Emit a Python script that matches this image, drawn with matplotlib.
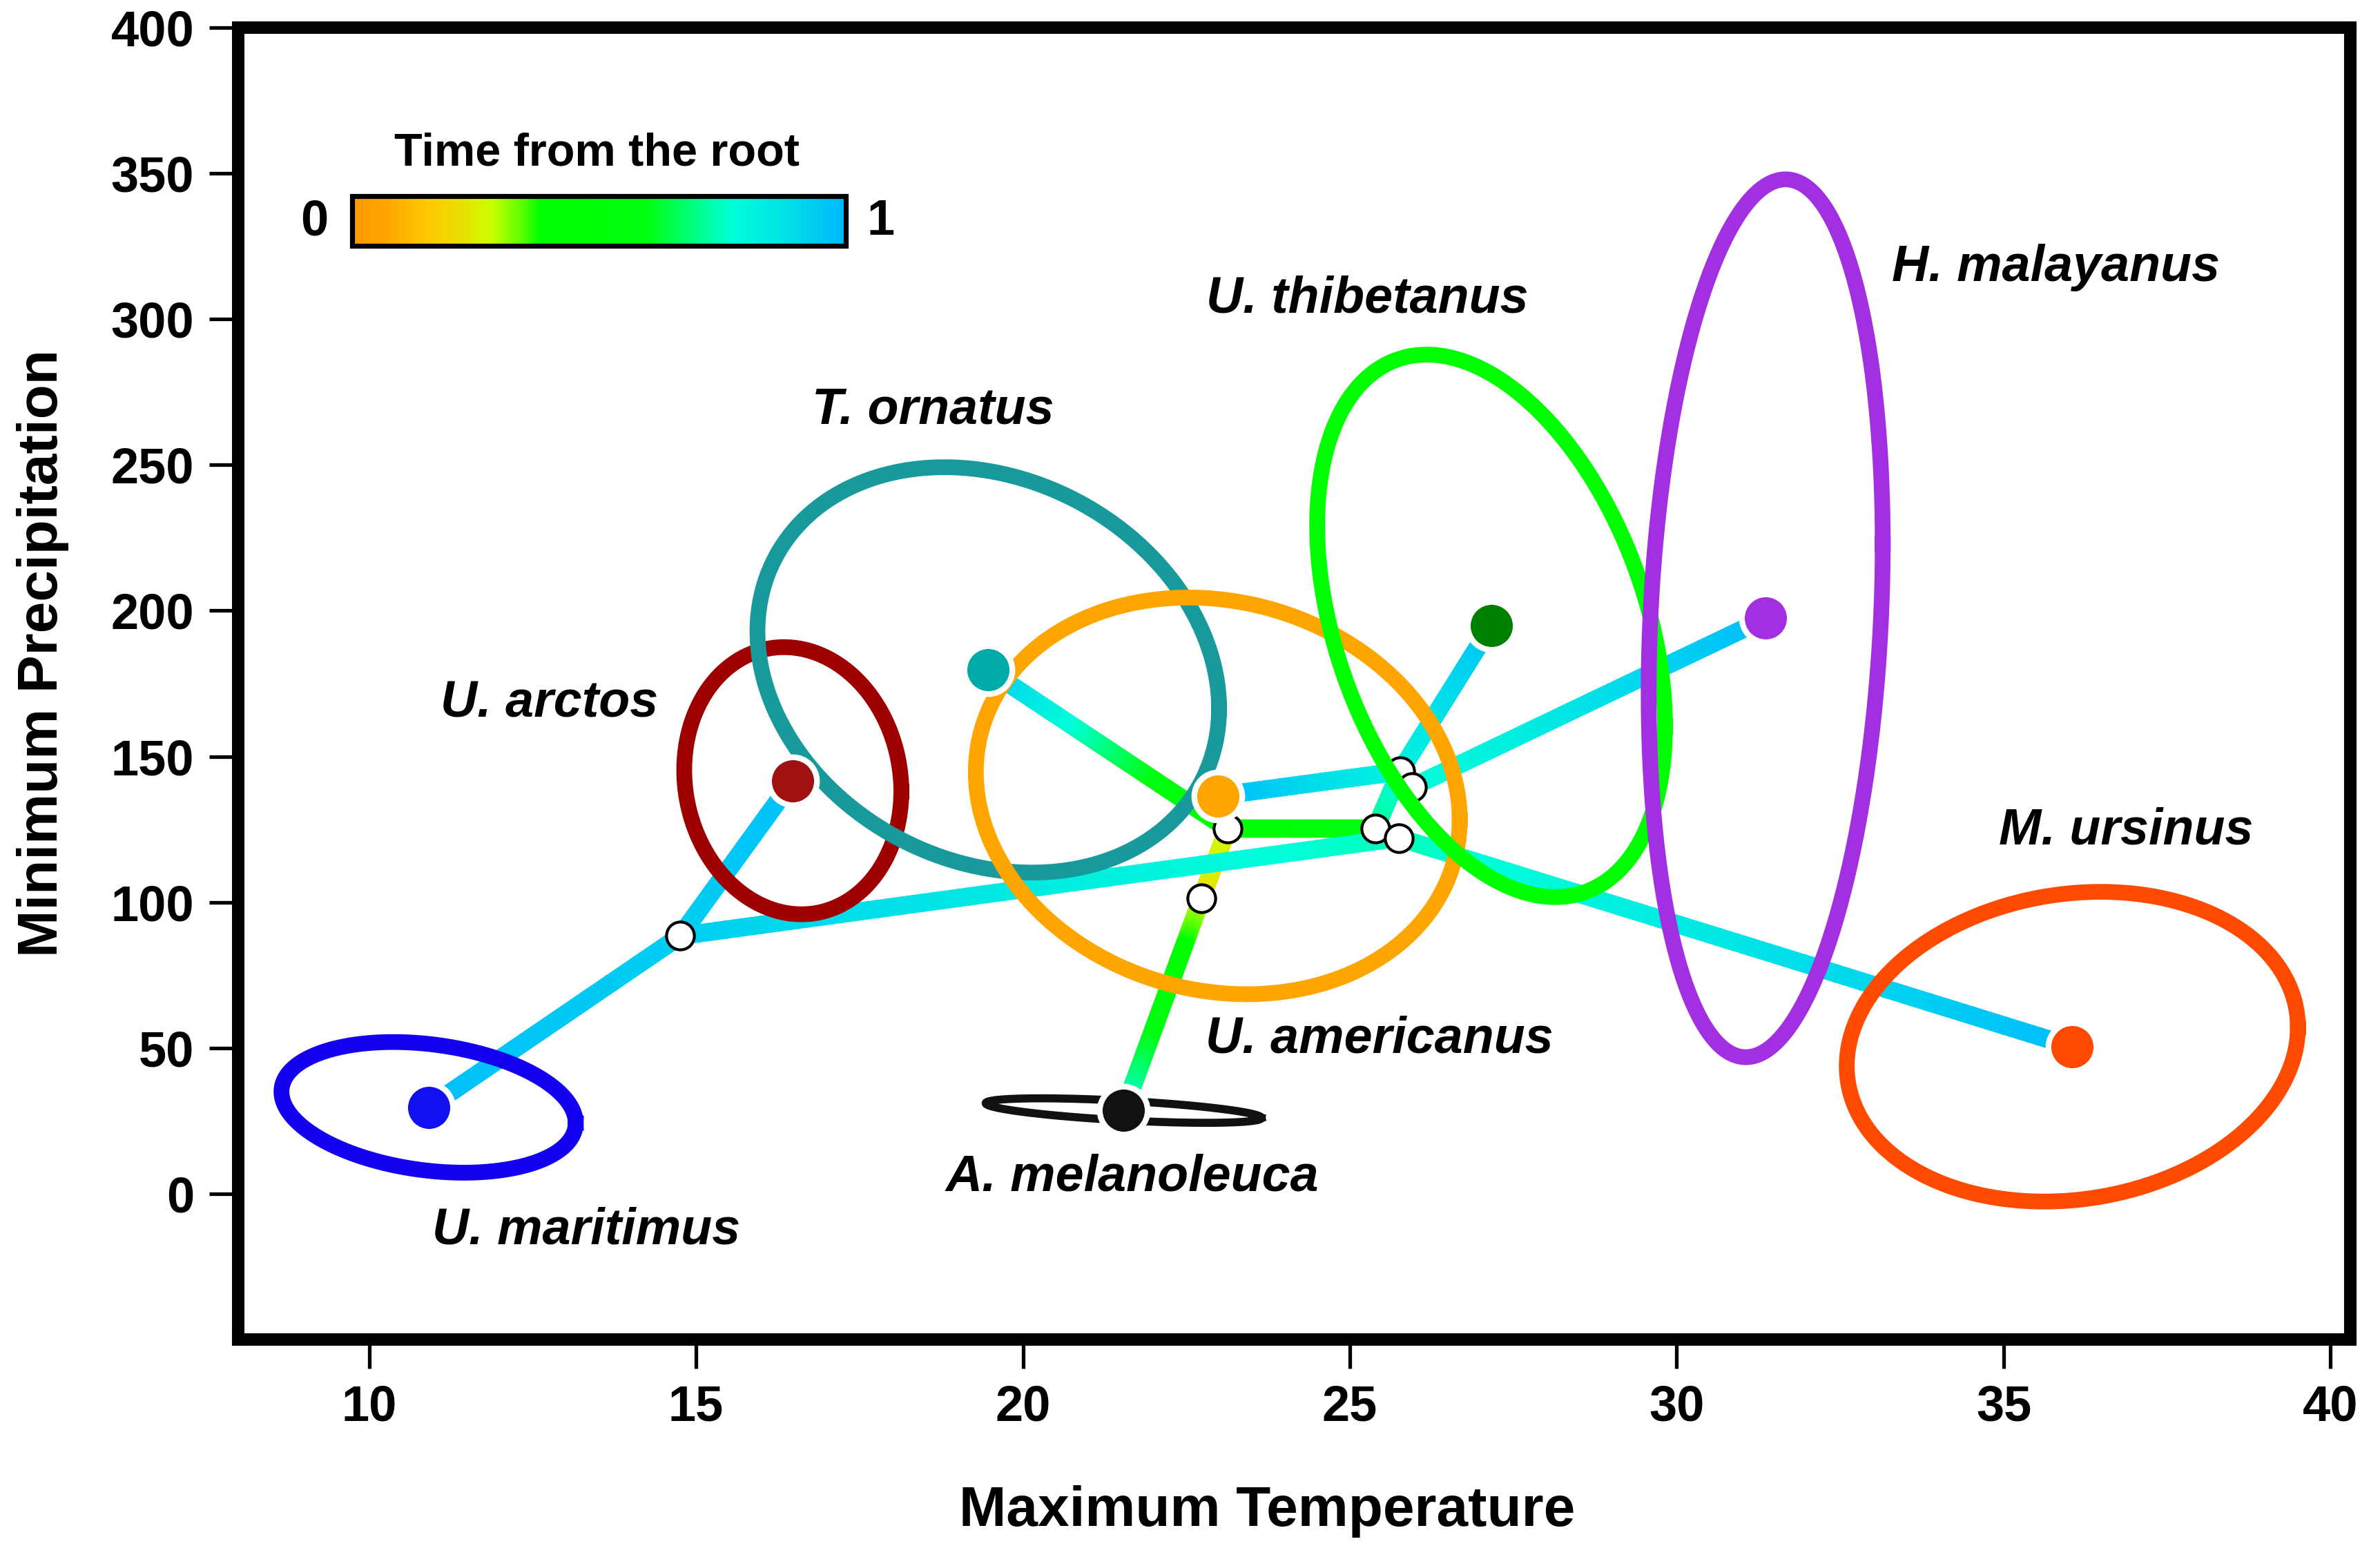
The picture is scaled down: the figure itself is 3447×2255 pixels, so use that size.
import numpy as np
import matplotlib.pyplot as plt
from matplotlib.collections import LineCollection
from matplotlib.colors import LinearSegmentedColormap, Normalize
from matplotlib.cm import ScalarMappable
from matplotlib import font_manager

# fonts
installed = {f.name for f in font_manager.fontManager.ttflist}
SANS = 'Liberation Sans'
NARROW = 'Liberation Sans Narrow' if 'Liberation Sans Narrow' in installed else SANS

# --- Data ---
species = ['U. maritimus', 'U. arctos', 'T. ornatus', 'U. americanus',
           'A. melanoleuca', 'U. thibetanus', 'H. malayanus', 'M. ursinus']
tip_temp = [10.91, 16.48, 19.47, 22.98, 21.54, 27.16, 31.36, 36.05]
tip_prec = [29.7, 141.7, 179.7, 136.5, 28.6, 194.8, 197.4, 50.5]

# spread of each species (half-widths and correlation of the ellipse)
ell_sd_temp = [2.25, 1.66, 3.53, 3.70, 2.11, 2.66, 1.79, 3.45]
ell_sd_prec = [22.4, 45.8, 69.5, 68.0, 4.2, 93.0, 150.5, 53.1]
ell_rho = [-0.24, -0.08, -0.19, -0.12, -0.60, -0.37, 0.17, 0.125]

# reconstructed ancestral states (internal nodes)
node_names = ['n1', 'n2', 'n3', 'n4', 'n5', 'n6', 'n7']
node_temp = [14.76, 22.73, 23.13, 25.39, 25.75, 25.77, 25.95]
node_prec = [88.5, 101.3, 125.2, 125.2, 122.1, 144.9, 139.5]

# branches: parent, child, time from root at start and end
edge_from = ['n2', 'n2', 'n3', 'n3', 'n4', 'n4', 'n5', 'n1', 'n1', 'n5',
             'n6', 'n6', 'n6', 'n7']
edge_to = ['A. melanoleuca', 'n3', 'T. ornatus', 'n4', 'n5', 'n6', 'n1',
           'U. maritimus', 'U. arctos', 'M. ursinus', 'U. americanus',
           'U. thibetanus', 'n7', 'H. malayanus']
edge_t0 = [0.27, 0.22, 0.42, 0.42, 0.70, 0.70, 0.74, 0.93, 0.93, 0.74,
           0.80, 0.80, 0.77, 0.76]
edge_t1 = [0.76, 0.27, 0.93, 0.60, 0.72, 0.77, 0.93, 0.97, 0.97, 0.98,
           0.98, 0.96, 0.77, 0.98]

# colours
ellipse_colors = ['#1400F0', '#9E0000', '#189A9C', '#FFA500', '#111111',
                  '#00FF00', '#A22FE2', '#FF4A00']
dot_colors = ['#1010F0', '#A01212', '#00AAA8', '#FFA500', '#111111',
              '#008000', '#A22FE2', '#FF4800']
label_x = [13.32, 12.76, 18.63, 25.45, 21.67, 25.27, 35.80, 36.87]
label_y = [-12.5, 168.2, 268.8, 53.1, 5.7, 306.8, 317.7, 124.5]

cmap_stops = [0.0, 0.06, 0.15, 0.22, 0.28, 0.34, 0.38, 0.60, 0.68, 0.77, 0.88, 1.0]
cmap_hex = ['#FF9900', '#FFA300', '#FFC800', '#E8E000', '#CCFF00', '#60FF00',
            '#00FF00', '#00FF10', '#00FF70', '#00FFD8', '#00E0E8', '#00B8FF']
time_cmap = LinearSegmentedColormap.from_list('time', list(zip(cmap_stops, cmap_hex)))

pos = {n: (x, y) for n, x, y in zip(node_names, node_temp, node_prec)}
pos.update({s: (x, y) for s, x, y in zip(species, tip_temp, tip_prec)})

# --- Figure ---
fig = plt.figure(figsize=(17.24, 11.275), dpi=200)
ax = fig.add_axes([0.1001, 0.1395, 0.8871, 0.8429])

# branches with colour gradient along time
n_sub = 80
for a, b, t0, t1 in zip(edge_from, edge_to, edge_t0, edge_t1):
    (x0, y0), (x1, y1) = pos[a], pos[b]
    xs = np.linspace(x0, x1, n_sub + 1)
    ys = np.linspace(y0, y1, n_sub + 1)
    pts = np.column_stack([xs, ys]).reshape(-1, 1, 2)
    segs = np.concatenate([pts[:-1], pts[1:]], axis=1)
    cols = time_cmap(np.linspace(t0, t1, n_sub))
    lc = LineCollection(segs, colors=cols, linewidths=9.5, capstyle='round', zorder=2)
    ax.add_collection(lc)

# internal nodes
ax.plot(node_temp, node_prec, 'o', ms=14.5, mfc='white', mec='black', mew=1.5,
        ls='none', zorder=3)

# species ellipses
theta = np.linspace(0, 2 * np.pi, 500)
for i, sp in enumerate(species):
    cx, cy = tip_temp[i], tip_prec[i]
    r = ell_rho[i]
    ex = cx + ell_sd_temp[i] * np.cos(theta)
    ey = cy + ell_sd_prec[i] * (r * np.cos(theta) + np.sqrt(1 - r ** 2) * np.sin(theta))
    lw = 4.2 if sp == 'A. melanoleuca' else 8.2
    ax.plot(ex, ey, color=ellipse_colors[i], lw=lw, zorder=4)

# tip dots
for i, sp in enumerate(species):
    ax.plot(tip_temp[i], tip_prec[i], 'o', ms=25, mfc=dot_colors[i], mec='white',
            mew=3, zorder=6)
    ax.text(label_x[i], label_y[i], sp, ha='center', va='center', fontsize=26.5,
            fontweight='bold', style='italic', family=SANS, zorder=7)

ax.set_xlim(8.0, 40.3)
ax.set_ylim(-50, 400)
ax.set_xticks(range(10, 41, 5))
ax.set_yticks(range(0, 401, 50))
ax.tick_params(direction='out', length=15, width=1.9, labelsize=26, pad=8)
for lbl in ax.get_xticklabels():
    lbl.set_fontweight('bold')
    lbl.set_family(NARROW)
for lbl in ax.get_yticklabels():
    lbl.set_fontweight('bold')
    lbl.set_family(SANS)
for sp in ax.spines.values():
    sp.set_linewidth(6.5)

ax.set_xlabel('Maximum Temperature', fontsize=29.5, fontweight='bold', family=SANS, va='center')
ax.xaxis.set_label_coords(0.487, -0.131)
ax.set_ylabel('Minimum Precipitation', fontsize=29.5, fontweight='bold', family=SANS, va='center')
ax.yaxis.set_label_coords(-0.0927, 0.523)

# colour bar for time from the root
cax = fig.add_axes([0.148, 0.842, 0.2073, 0.0322])
cb = fig.colorbar(ScalarMappable(norm=Normalize(0, 1), cmap=time_cmap), cax=cax,
                  orientation='horizontal')
cb.set_ticks([])
cb.outline.set_linewidth(2.6)
fig.text(0.2506, 0.9015, 'Time from the root', ha='center', va='center',
         fontsize=24, fontweight='bold', family=NARROW)
fig.text(207 / 1568, 1 - 146 / 1025, '0', ha='center', va='center', fontsize=26,
         fontweight='bold', family=NARROW)
fig.text(580 / 1568, 1 - 146 / 1025, '1', ha='center', va='center', fontsize=26,
         fontweight='bold', family=NARROW)

fig.savefig('out.png', dpi=200, facecolor='white')
